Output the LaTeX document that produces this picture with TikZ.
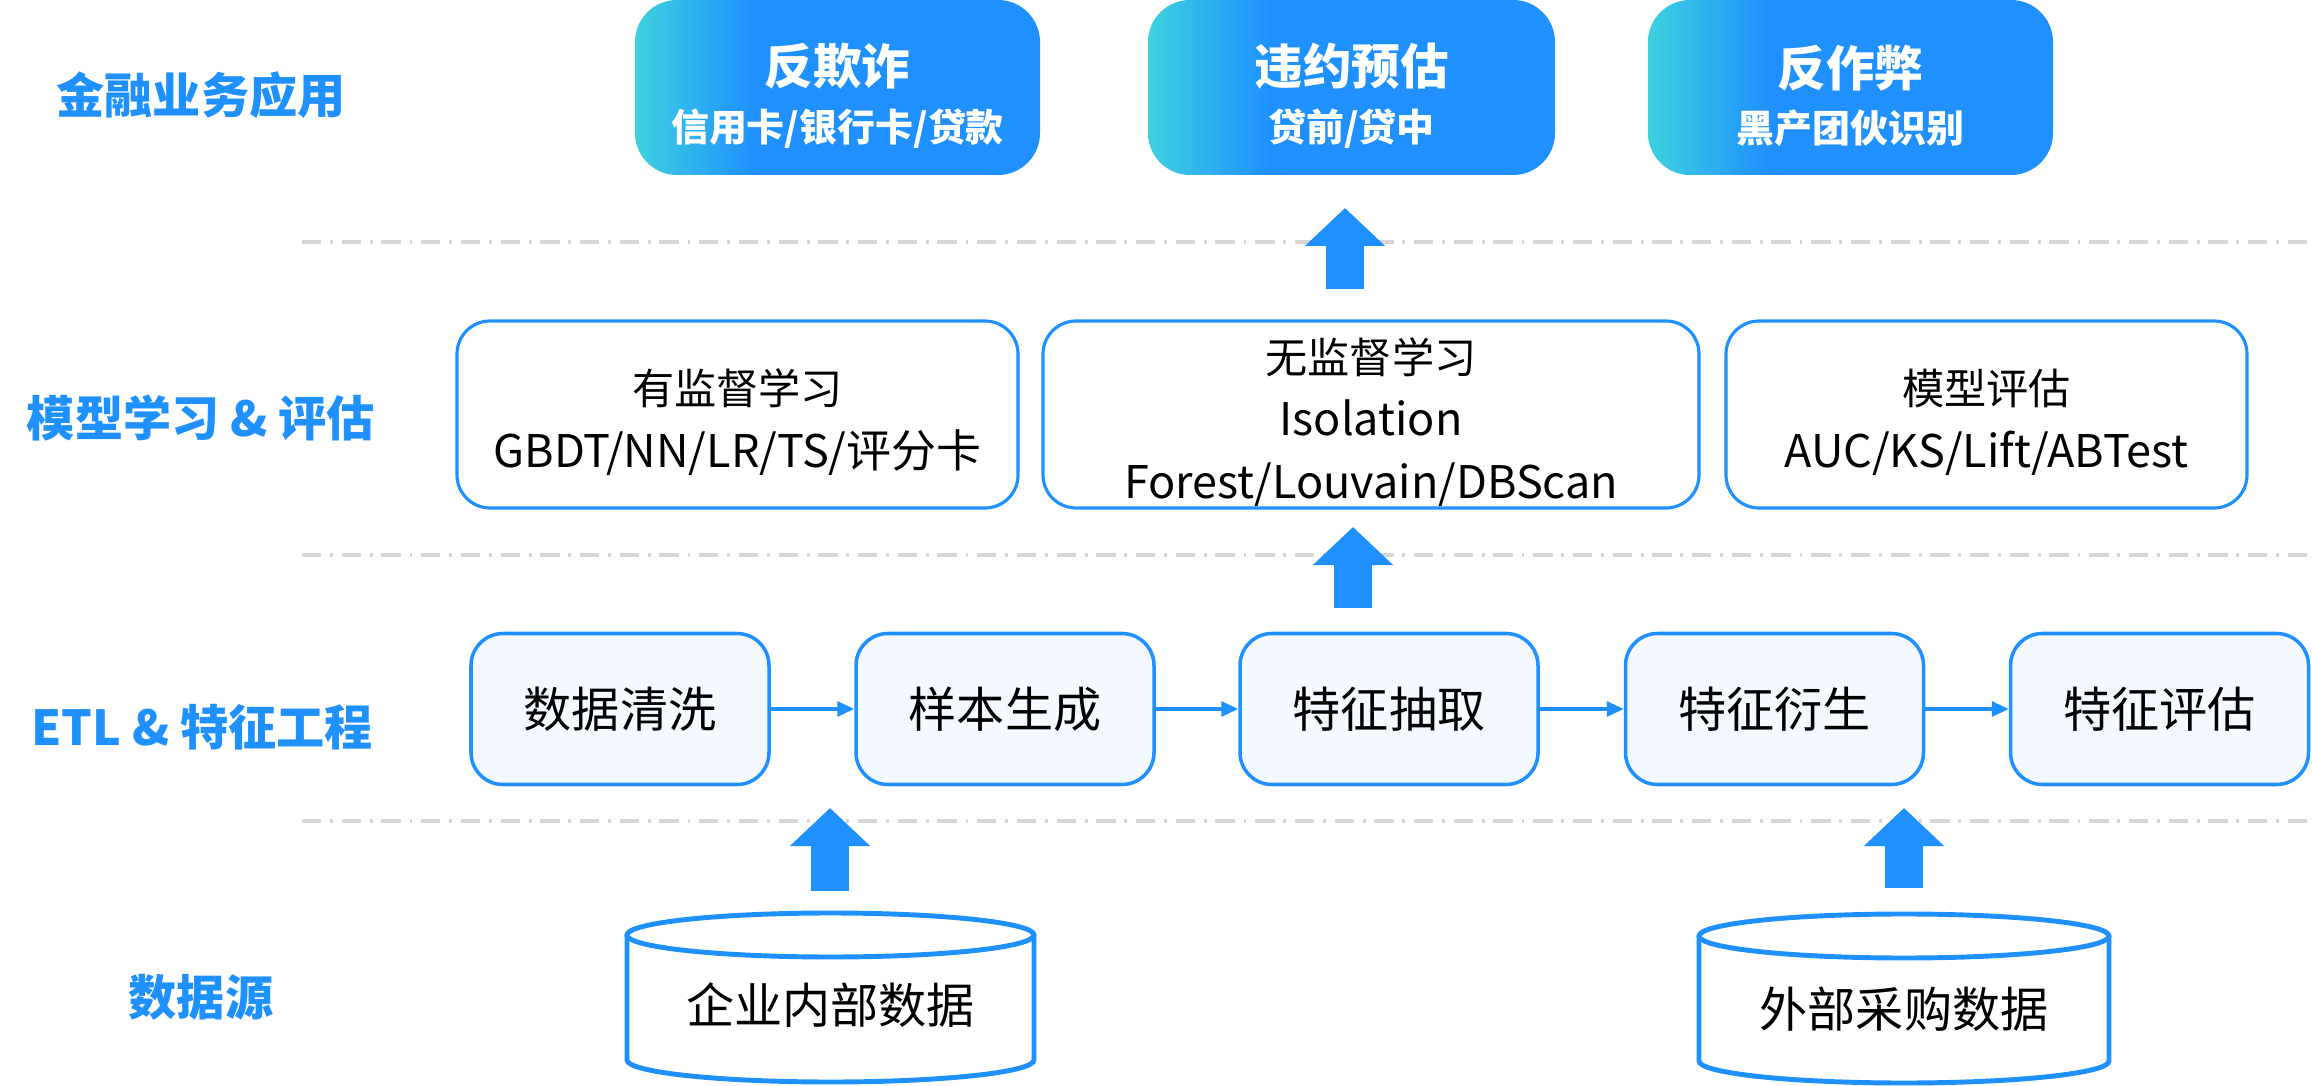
\documentclass[tikz,border=0pt]{standalone}
\usepackage{fontspec}
\setmainfont{Noto Sans CJK SC}
\usepackage{tikz}
\usetikzlibrary{shapes,arrows.meta}

\definecolor{tblue}{HTML}{1E90FF}
\definecolor{tcyan}{HTML}{3ED0DF}
\definecolor{lgray}{HTML}{D6D6D6}
\definecolor{efill}{HTML}{F4F9FF}
\pgfdeclarehorizontalshading{appgrad}{100bp}{color(0bp)=(tcyan); color(25bp)=(tcyan); color(40bp)=(tblue); color(100bp)=(tblue)}

\newcommand{\apptitle}[1]{\rule{0pt}{16.5pt}{\fontsize{13.8}{16}\selectfont #1}}
\newcommand{\mtitle}[1]{\rule{0pt}{14.5pt}#1}
\newcommand{\latline}[1]{{\fontsize{12.8}{17.8}\selectfont #1}}

\tikzset{
  layer/.style={text=tblue, font=\fontsize{13.7}{16}\selectfont\bfseries},
  app/.style={shape=rectangle, rounded corners=0.42cm, shade, shading=appgrad, text=white, align=center, minimum height=1.75cm, inner sep=0pt, font=\fontsize{10.8}{16}\selectfont\bfseries},
  mbox/.style={shape=rectangle, rounded corners=0.33cm, draw=tblue, line width=0.9pt, fill=white, align=center, minimum height=1.87cm, inner sep=0pt, font=\fontsize{12}{17.8}\selectfont},
  ebox/.style={shape=rectangle, rounded corners=0.32cm, draw=tblue, line width=1pt, fill=efill, minimum width=2.98cm, minimum height=1.51cm, font=\fontsize{13.7}{16}\selectfont},
  dbtext/.style={font=\fontsize{13.7}{16}\selectfont},
  dbline/.style={draw=tblue, line width=1.4pt},
  sep/.style={draw=lgray, line width=0.9pt, dash pattern=on 5.5pt off 2.5pt on 0.8pt off 2.5pt},
  flow/.style={draw=tblue, line width=0.9pt, -{Triangle[length=0.17cm,width=0.15cm]}},
  bigup/.style={draw=tblue, line width=0.38cm, -{Triangle[length=0.38cm,width=0.78cm]}},
}

\begin{document}
\begin{tikzpicture}
\useasboundingbox (0,0) rectangle (23.12,-10.86);

% layer names
\node (l1) at (2.01,-0.95) [layer] {金融业务应用};
\node (l2) at (2.01,-4.18) [layer] {模型学习 \& 评估};
\node (l3) at (2.02,-7.27) [layer] {ETL \& 特征工程};
\node (l4) at (2.01,-9.97) [layer] {数据源};

\draw [sep] (3.02,-2.42) -- (23.12,-2.42);
\draw [sep] (3.02,-5.55) -- (23.12,-5.55);
\draw [sep] (3.02,-8.21) -- (23.12,-8.21);

% applications
\node (app1) at (8.375,-0.875) [app, minimum width=4.05cm] {\apptitle{反欺诈}\\信用卡/银行卡/贷款};
\node (app2) at (13.515,-0.875) [app, minimum width=4.07cm] {\apptitle{违约预估}\\贷前/贷中};
\node (app3) at (18.505,-0.875) [app, minimum width=4.05cm] {\apptitle{反作弊}\\黑产团伙识别};

% models
\node (m1) at (7.375,-4.145) [mbox, minimum width=5.61cm] {\mtitle{有监督学习}\\\latline{GBDT/NN/LR/TS/评分卡}};
\node (m2) at (13.71,-4.145) [mbox, minimum width=6.56cm] {\mtitle{无监督学习}\\\latline{Isolation}\\\latline{Forest/Louvain/DBScan}};
\node (m3) at (19.865,-4.145) [mbox, minimum width=5.21cm] {\mtitle{模型评估}\\\latline{AUC/KS/Lift/ABTest}};

% etl
\node (e1) at (6.20,-7.09) [ebox] {数据清洗};
\node (e2) at (10.05,-7.09) [ebox] {样本生成};
\node (e3) at (13.89,-7.09) [ebox] {特征抽取};
\node (e4) at (17.745,-7.09) [ebox] {特征衍生};
\node (e5) at (21.595,-7.09) [ebox] {特征评估};

\draw [flow] (e1) -- (e2);
\draw [flow] (e2) -- (e3);
\draw [flow] (e3) -- (e4);
\draw [flow] (e4) -- (e5);

% sources
\draw [dbline] (6.27,-9.35) -- (6.27,-10.60) arc [start angle=180, end angle=360, x radius=2.035, y radius=0.22] -- (10.34,-9.35);
\draw [dbline] (8.305,-9.35) ellipse [x radius=2.035, y radius=0.22];
\node (c1) at (8.305,-10.05) [dbtext] {企业内部数据};
\draw [dbline] (16.99,-9.36) -- (16.99,-10.61) arc [start angle=180, end angle=360, x radius=2.05, y radius=0.22] -- (21.09,-9.36);
\draw [dbline] (19.04,-9.36) ellipse [x radius=2.05, y radius=0.22];
\node (c2) at (19.04,-10.09) [dbtext] {外部采购数据};

\coordinate (a1s) at (13.45,-2.89);
\coordinate (a1e) at (13.45,-2.08);
\coordinate (a2s) at (13.53,-6.08);
\coordinate (a2e) at (13.53,-5.27);
\coordinate (a3s) at (8.30,-8.91);
\coordinate (a3e) at (8.30,-8.08);
\coordinate (a4s) at (19.04,-8.88);
\coordinate (a4e) at (19.04,-8.08);
\draw [bigup] (a1s) -- (a1e);
\draw [bigup] (a2s) -- (a2e);
\draw [bigup] (a3s) -- (a3e);
\draw [bigup] (a4s) -- (a4e);
\end{tikzpicture}
\end{document}
